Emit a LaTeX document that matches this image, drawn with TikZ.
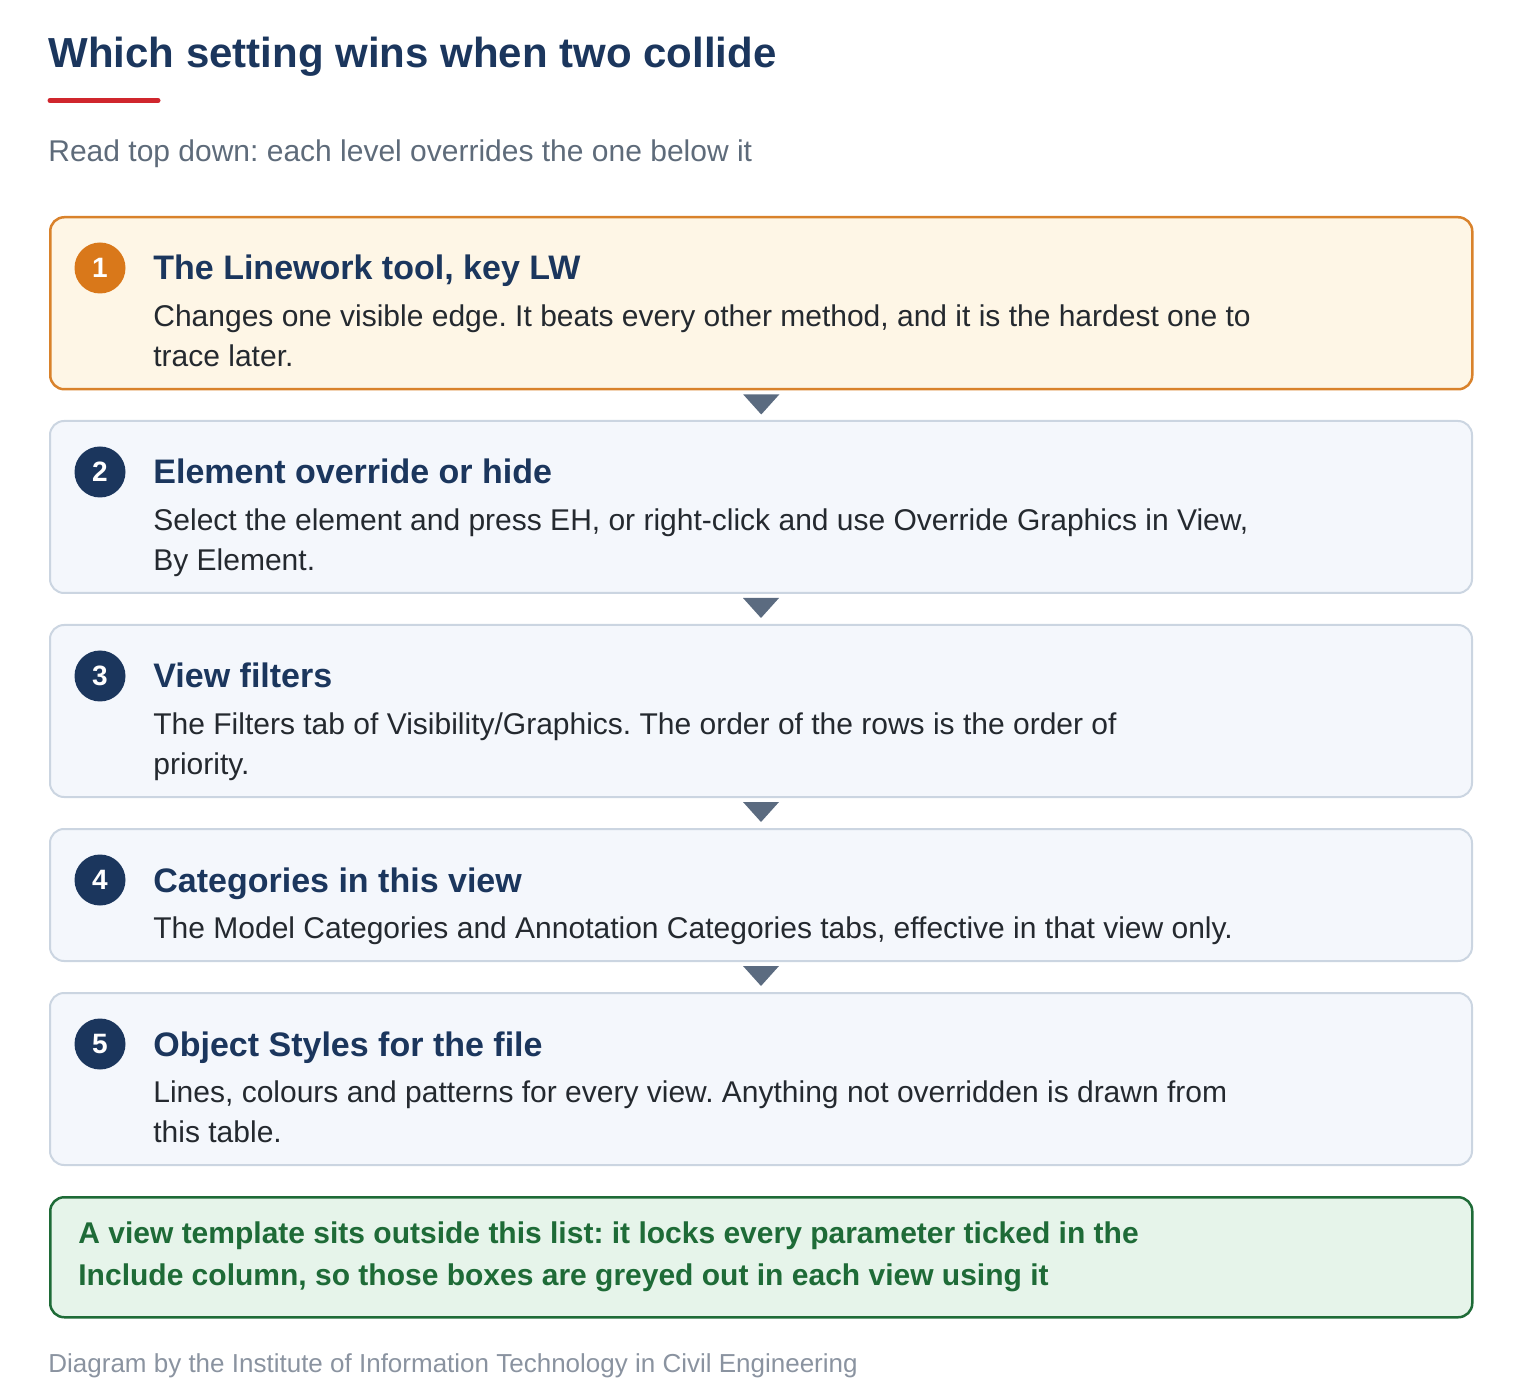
\documentclass[tikz,border=0pt]{standalone}
\usepackage{fontspec}
\setmainfont{Liberation Sans}
\usepackage{tikz}
\usetikzlibrary{calc}
\frenchspacing

\definecolor{navy}{HTML}{1B365D}
\definecolor{ink}{HTML}{24292F}
\definecolor{subgray}{HTML}{5E6B7A}
\definecolor{footgray}{HTML}{8A93A0}
\definecolor{redbar}{HTML}{D0262D}
\definecolor{orangeline}{HTML}{D9822B}
\definecolor{orangedot}{HTML}{D9781A}
\definecolor{cream}{HTML}{FEF6E6}
\definecolor{panel}{HTML}{F4F7FC}
\definecolor{panelline}{HTML}{CBD5E1}
\definecolor{tipgray}{HTML}{5B6B80}
\definecolor{notefill}{HTML}{E6F4EA}
\definecolor{notegreen}{HTML}{1E6B37}

\tikzset{
  level/.style={draw=panelline, fill=panel, line width=1pt, rounded corners=7pt,
    minimum width=711pt, anchor=north west, inner sep=0pt},
  toplevel/.style={level, draw=orangeline, fill=cream, line width=1.25pt},
  note/.style={level, draw=notegreen, fill=notefill, line width=1.25pt},
  num/.style={circle, fill=navy, text=white, minimum size=25.5pt, inner sep=0pt,
    font=\fontsize{14}{14}\selectfont\bfseries},
  head/.style={anchor=base west, inner sep=0pt, text=navy,
    font=\fontsize{17}{20}\selectfont\bfseries},
  body/.style={anchor=north west, inner sep=0pt, align=left, text=ink,
    font=\fontsize{15}{20}\selectfont},
  tip/.style={fill=tipgray},
}

\begin{document}
\begin{tikzpicture}[x=0.5pt,y=-0.5pt]
  \useasboundingbox (0,0) rectangle (1520,1400);

  % title
  \node[anchor=base west, inner sep=0pt, text=navy, font=\fontsize{21}{24}\selectfont\bfseries]
    (title) at (48,68) {Which setting wins when two collide};
  \draw[redbar, line width=2.5pt, line cap=round] (50,100.5) -- (158,100.5);
  \node[anchor=base west, inner sep=0pt, text=subgray, font=\fontsize{15}{18}\selectfont]
    (sub) at (48,162) {Read top down: each level overrides the one below it};

  % levels
  \node[toplevel, minimum height=86pt] (b1) at (49,216) {};
  \node[num, fill=orangedot] (n1) at (100,268) {1};
  \node[head] (h1) at (153,280) {The Linework tool, key LW};
  \node[body] (t1) at (153,298) {\strut Changes one visible edge. It beats every other method, and it is the hardest one to\\trace later.};

  \node[level, minimum height=86pt] (b2) at (49,420) {};
  \node[num] (n2) at (100,472) {2};
  \node[head] (h2) at (153,484) {Element override or hide};
  \node[body] (t2) at (153,502) {\strut Select the element and press EH, or right-click and use Override Graphics in View,\\By Element.};

  \node[level, minimum height=86pt] (b3) at (49,624) {};
  \node[num] (n3) at (100,676) {3};
  \node[head] (h3) at (153,688) {View filters};
  \node[body] (t3) at (153,706) {\strut The Filters tab of Visibility/Graphics. The order of the rows is the order of\\priority.};

  \node[level, minimum height=66pt] (b4) at (49,828) {};
  \node[num] (n4) at (100,880) {4};
  \node[head] (h4) at (153,892) {Categories in this view};
  \node[body] (t4) at (153,910) {\strut The Model Categories and Annotation Categories tabs, effective in that view only.};

  \node[level, minimum height=86pt] (b5) at (49,992) {};
  \node[num] (n5) at (100,1044) {5};
  \node[head] (h5) at (153,1056) {Object Styles for the file};
  \node[body] (t5) at (153,1074) {\strut Lines, colours and patterns for every view. Anything not overridden is drawn from\\this table.};

  % markers between levels
  \fill[tip] ($(b1.south)+(-18,4)$) -- ++(36,0) -- ++(-18,20) -- cycle;
  \fill[tip] ($(b2.south)+(-18,4)$) -- ++(36,0) -- ++(-18,20) -- cycle;
  \fill[tip] ($(b3.south)+(-18,4)$) -- ++(36,0) -- ++(-18,20) -- cycle;
  \fill[tip] ($(b4.south)+(-18,4)$) -- ++(36,0) -- ++(-18,20) -- cycle;

  % template note
  \node[note, minimum height=60pt] (tpl) at (49,1196) {};
  \node[anchor=north west, inner sep=0pt, align=left, text=notegreen,
    font=\fontsize{15}{21}\selectfont\bfseries] (tpltext) at (78,1214)
    {\strut A view template sits outside this list: it locks every parameter ticked in the\\Include column, so those boxes are greyed out in each view using it};

  \node[anchor=base west, inner sep=0pt, text=footgray, font=\fontsize{13}{16}\selectfont]
    (foot) at (48,1372) {Diagram by the Institute of Information Technology in Civil Engineering};
\end{tikzpicture}
\end{document}
